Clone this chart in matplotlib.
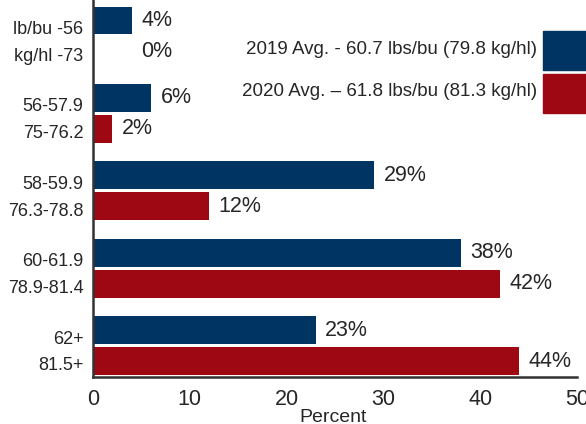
import numpy as np
import matplotlib.pyplot as plt
from matplotlib.patches import Rectangle

plt.rcParams['font.family'] = ['Liberation Sans Narrow', 'Liberation Sans', 'DejaVu Sans']

# Données
categories = ['lb/bu -56\nkg/hl -73', '56-57.9\n75-76.2', '58-59.9\n76.3-78.8',
              '60-61.9\n78.9-81.4', '62+\n81.5+']
vals_2019 = [4, 6, 29, 38, 23]
vals_2020 = [0, 2, 12, 42, 44]
labels_legende = ['2019 Avg. - 60.7 lbs/bu (79.8 kg/hl)',
                  '2020 Avg. \u2013 61.8 lbs/bu (81.3 kg/hl)']
xticks = [0, 10, 20, 30, 40, 50]

bleu = '#003462'
rouge = '#9e0812'
gris = '#262626'

fig = plt.figure(figsize=(5.86, 4.24), dpi=100)
ax = fig.add_axes([0.1587, 0.1097, 0.8259, 0.8903])

y = np.arange(len(categories))
h = 0.36
ax.barh(y - 0.2, vals_2019, height=h, color=bleu)
ax.barh(y + 0.2, vals_2020, height=h, color=rouge)

# étiquettes de valeurs
for i in range(len(categories)):
    ax.annotate(f'{vals_2019[i]}%', (vals_2019[i], y[i] - 0.2), xytext=(7, 0),
                textcoords='offset points', va='center', ha='left', fontsize=15.5, color=gris)
    x2 = vals_2020[i] if vals_2020[i] > 0 else vals_2019[i]
    ax.annotate(f'{vals_2020[i]}%', (x2, y[i] + 0.2), xytext=(7, 0),
                textcoords='offset points', va='center', ha='left', fontsize=15.5, color=gris)

ax.set_xlim(0, 50)
ax.set_ylim(4.41, -0.465)
ax.set_xticks(xticks)
ax.set_xticklabels([str(t) for t in xticks], fontsize=15.5, color=gris)
ax.set_yticks(y)
ax.set_yticklabels(categories, fontsize=13, color=gris, linespacing=1.75)
ax.tick_params(axis='both', length=0)
ax.tick_params(axis='x', pad=8)
ax.tick_params(axis='y', pad=7)
for s in ['top', 'right']:
    ax.spines[s].set_visible(False)
for s in ['left', 'bottom']:
    ax.spines[s].set_color('#333333')
    ax.spines[s].set_linewidth(1.8)

fig.text(0.568, 0.016, 'Percent', ha='center', va='center', fontsize=14, color=gris)

# légende
fig.patches.append(Rectangle((543 / 586, 1 - 70 / 424), 50 / 586, 39 / 424,
                             transform=fig.transFigure, color=bleu))
fig.patches.append(Rectangle((543 / 586, 1 - 113 / 424), 50 / 586, 39 / 424,
                             transform=fig.transFigure, color=rouge))
fig.text(537 / 586, 1 - 50 / 424, labels_legende[0], ha='right', va='center',
         fontsize=13.5, color=gris)
fig.text(537 / 586, 1 - 91 / 424, labels_legende[1], ha='right', va='center',
         fontsize=13.5, color=gris)

fig.savefig('out.png', dpi=100)
